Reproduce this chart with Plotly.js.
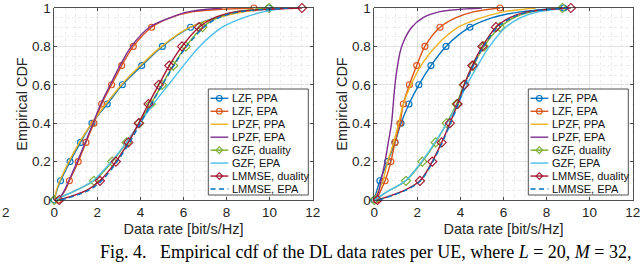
<!DOCTYPE html>
<html>
<head>
<meta charset="utf-8">
<script src="https://cdn.plot.ly/plotly-3.0.1.min.js"></script>
<style>
html,body{margin:0;padding:0;background:#fff;overflow:hidden;}
#chart{width:640px;height:264px;}
</style>
</head>
<body>
<div id="chart"></div>
<script>
// ---- data ----
const cdfLevels = [0, 0.05, 0.1, 0.2, 0.3, 0.4, 0.5, 0.6, 0.7, 0.8, 0.9, 0.95, 0.98, 1];
const markerLevels = [0, 0.1, 0.2, 0.3, 0.4, 0.5, 0.6, 0.7, 0.8, 0.9, 1];
const seriesNames = ['LZF, PPA','LZF, EPA','LPZF, PPA','LPZF, EPA','GZF, duality','GZF, EPA','LMMSE, duality','LMMSE, EPA'];

// left panel: data rate at each CDF level
const lzfPpaL    = [0, 0.12, 0.29, 0.73, 1.22, 1.75, 2.46, 3.16, 4.06, 5.02, 6.33, 7.5, 8.7, 9.95];
const lzfEpaL    = [0.19, 0.5, 0.70, 1.11, 1.47, 1.84, 2.20, 2.66, 3.13, 3.67, 4.52, 5.4, 6.4, 9.27];
const lpzfPpaL   = [0, 0.1, 0.26, 0.68, 1.17, 1.74, 2.4, 3.12, 4.0, 4.98, 6.3, 7.6, 8.8, 10.2];
const lpzfEpaL   = [0.2, 0.47, 0.67, 1.07, 1.44, 1.8, 2.16, 2.6, 3.05, 3.58, 4.42, 5.4, 6.2, 7.8];
const gzfDualL   = [0, 1.0, 1.84, 2.69, 3.36, 3.95, 4.48, 5.0, 5.52, 6.11, 6.88, 7.6, 8.4, 9.98];
const gzfEpaL    = [0, 1.0, 1.8, 2.65, 3.35, 3.97, 4.6, 5.3, 6.0, 6.75, 7.8, 8.8, 9.7, 10.8];
const lmmseDualL = [0.23, 1.5, 2.12, 2.86, 3.44, 3.92, 4.37, 4.85, 5.34, 5.93, 6.72, 7.45, 8.4, 11.5];
const lmmseEpaL  = [0.3, 1.6, 2.2, 2.92, 3.5, 4.0, 4.5, 5.02, 5.55, 6.15, 6.95, 7.65, 8.6, 11.0];

// right panel
const lzfPpaR    = [0, 0.12, 0.26, 0.62, 0.96, 1.24, 1.61, 2.07, 2.63, 3.33, 4.44, 5.5, 6.8, 8.8];
const lzfEpaR    = [0.1, 0.3, 0.5, 0.77, 0.96, 1.19, 1.35, 1.63, 1.97, 2.35, 3.05, 3.8, 4.6, 5.84];
const lpzfPpaR   = [0, 0.2, 0.4, 0.62, 0.9, 1.13, 1.35, 1.7, 2.17, 2.85, 3.9, 5.0, 6.0, 7.5];
const lpzfEpaR   = [0.05, 0.22, 0.31, 0.5, 0.65, 0.8, 0.88, 0.96, 1.08, 1.27, 1.74, 2.27, 3.0, 5.0];
const gzfDualR   = [0, 0.7, 1.47, 2.23, 2.85, 3.36, 3.82, 4.16, 4.6, 5.09, 5.84, 6.5, 7.3, 8.73];
const gzfEpaR    = [0, 0.7, 1.45, 2.2, 2.82, 3.37, 3.87, 4.3, 4.8, 5.35, 6.1, 6.8, 7.6, 9.0];
const lmmseDualR = [0.15, 1.4, 2.12, 2.69, 3.13, 3.51, 3.87, 4.18, 4.55, 5.02, 5.65, 6.3, 7.1, 9.13];
const lmmseEpaR  = [0.2, 1.45, 2.15, 2.72, 3.16, 3.54, 3.9, 4.22, 4.6, 5.07, 5.72, 6.4, 7.2, 9.0];

const xTickVals = [0, 2, 4, 6, 8, 10, 12];
const yTickVals = [0, 0.2, 0.4, 0.6, 0.8, 1];

// ---- styles ----
const styles = [
  {color:'#0072BD', symbol:'circle-open',  size:6, dash:'solid'},
  {color:'#D95319', symbol:'circle-open',  size:6, dash:'solid'},
  {color:'#EDB120', symbol:null,           size:0, dash:'solid'},
  {color:'#7E2F8E', symbol:null,           size:0, dash:'solid'},
  {color:'#77AC30', symbol:'diamond-open', size:7, dash:'solid'},
  {color:'#4DBEEE', symbol:null,           size:0, dash:'solid'},
  {color:'#A2142F', symbol:'diamond-open', size:7, dash:'solid'},
  {color:'#0072BD', symbol:null,           size:0, dash:'5px,3.5px'}
];
const leftSeries  = [lzfPpaL, lzfEpaL, lpzfPpaL, lpzfEpaL, gzfDualL, gzfEpaL, lmmseDualL, lmmseEpaL];
const rightSeries = [lzfPpaR, lzfEpaR, lpzfPpaR, lpzfEpaR, gzfDualR, gzfEpaR, lmmseDualR, lmmseEpaR];

const W = 640, H = 264;
const px = v => v / W;
const py = v => 1 - v / H;
const PLOT = {x0L:54.3, x1L:312.7, x0R:374.3, x1R:632.7, yT:8, yB:200};

function isMarkerLevel(l){ return markerLevels.some(m => Math.abs(m - l) < 1e-9); }

const traces = [];
function addPanel(series, xa, ya){
  series.forEach((xs, i) => {
    const s = styles[i];
    const t = {
      type:'scatter', x: xs, y: cdfLevels, xaxis: xa, yaxis: ya,
      name: seriesNames[i], showlegend:false, hoverinfo:'skip',
      mode: s.symbol ? 'lines+markers' : 'lines',
      line: {color: s.color, width: 1.4, dash: s.dash, shape:'spline', smoothing: 0.9},
      cliponaxis: false
    };
    if (s.symbol) {
      t.marker = {
        symbol: s.symbol, size: s.size,
        color: cdfLevels.map(l => isMarkerLevel(l) ? s.color : 'rgba(0,0,0,0)'),
        line: {width: 1.1}
      };
    }
    traces.push(t);
  });
}
addPanel(leftSeries, 'x', 'y');
addPanel(rightSeries, 'x2', 'y2');

const tickFont = {family:'"Liberation Sans", Arial, Helvetica, sans-serif', size:13.5, color:'#262626'};
const titleFont = {family:'"Liberation Sans", Arial, Helvetica, sans-serif', size:14.5, color:'#262626'};

function xAxis(domain, anchor){
  return {
    domain, anchor, range:[0,12], tickvals:xTickVals, ticktext:xTickVals.map(String),
    showline:true, linecolor:'#262626', linewidth:0.8, mirror:'ticks',
    ticks:'inside', ticklen:3, tickwidth:0.8, tickcolor:'#262626',
    showgrid:true, gridcolor:'#dcdcdc', gridwidth:0.7, zeroline:false,
    minor:{dtick:0.5, tick0:0, showgrid:true, gridcolor:'#e2e2e2', griddash:'dot', gridwidth:0.7, ticks:''},
    tickfont: tickFont, ticklabeloverflow:'allow', fixedrange:true,
    title:{text:'Data rate [bit/s/Hz]', font:titleFont, standoff:4}
  };
}
function yAxis(domain, anchor){
  return {
    domain, anchor, range:[0,1], tickvals:yTickVals, ticktext:yTickVals.map(String),
    showline:true, linecolor:'#262626', linewidth:0.8, mirror:'ticks',
    ticks:'inside', ticklen:3, tickwidth:0.8, tickcolor:'#262626',
    showgrid:true, gridcolor:'#dcdcdc', gridwidth:0.7, zeroline:false,
    minor:{dtick:0.05, tick0:0, showgrid:true, gridcolor:'#e2e2e2', griddash:'dot', gridwidth:0.7, ticks:''},
    tickfont: tickFont, ticklabeloverflow:'allow', fixedrange:true,
    title:{text:'Empirical CDF', font:titleFont, standoff:0}
  };
}

const yDom = [py(PLOT.yB), py(PLOT.yT)];

// ---- hand-made legends (one per panel) ----
const shapes = [], annotations = [];
function addLegend(offset){
  const L = 208.3 + offset, R = 308.3 + offset, T = 89, B = 195;
  shapes.push({type:'rect', xref:'paper', yref:'paper', x0:px(L), x1:px(R), y0:py(B), y1:py(T),
    fillcolor:'#ffffff', line:{color:'#262626', width:0.8}, layer:'above'});
  seriesNames.forEach((nm, i) => {
    const s = styles[i];
    const yc = 98.3 + i * 12.96;
    shapes.push({type:'line', xref:'paper', yref:'paper', x0:px(L+2.2), x1:px(L+20), y0:py(yc), y1:py(yc),
      line:{color:s.color, width:1.4, dash:s.dash}, layer:'above'});
    if (s.symbol === 'circle-open') {
      shapes.push({type:'circle', xref:'paper', yref:'paper', xsizemode:'pixel', ysizemode:'pixel',
        xanchor:px(L+11), yanchor:py(yc), x0:-2.8, x1:2.8, y0:-2.8, y1:2.8,
        fillcolor:'rgba(255,255,255,0)', line:{color:s.color, width:1.1}, layer:'above'});
    } else if (s.symbol === 'diamond-open') {
      shapes.push({type:'path', xref:'paper', yref:'paper', xsizemode:'pixel', ysizemode:'pixel',
        xanchor:px(L+11), yanchor:py(yc), path:'M -3.3 0 L 0 3.3 L 3.3 0 L 0 -3.3 Z',
        fillcolor:'rgba(255,255,255,0)', line:{color:s.color, width:1.1}, layer:'above'});
    }
    annotations.push({xref:'paper', yref:'paper', x:px(L+21.5), y:py(yc), xanchor:'left', yanchor:'middle',
      text:nm, showarrow:false, font:{family:'"Liberation Sans", Arial, Helvetica, sans-serif', size:11, color:'#111'}});
  });
}
addLegend(0);
addLegend(320);

// tick label of a neighbouring figure peeking in at the left edge
annotations.push({xref:'paper', yref:'paper', x:0, y:py(212), xanchor:'left', yanchor:'middle',
  text:'2', showarrow:false, font:tickFont});

// caption
annotations.push({xref:'paper', yref:'paper', x:px(634), y:py(251.5), xanchor:'right', yanchor:'middle',
  text: 'Fig. 4.\u2002 Empirical cdf of the DL data rates per UE, where <i>L</i> = 20, <i>M</i> = 32,',
  showarrow:false, font:{family:'"Liberation Serif", "Times New Roman", serif', size:18, color:'#000'}});

const layout = {
  width:W, height:H, autosize:false,
  margin:{l:0, r:0, t:0, b:0, pad:0},
  paper_bgcolor:'#ffffff', plot_bgcolor:'#ffffff',
  showlegend:false,
  xaxis: xAxis([px(PLOT.x0L), px(PLOT.x1L)], 'y'),
  yaxis: yAxis(yDom, 'x'),
  xaxis2: xAxis([px(PLOT.x0R), px(PLOT.x1R)], 'y2'),
  yaxis2: yAxis(yDom, 'x2'),
  shapes, annotations
};

Plotly.newPlot('chart', traces, layout, {staticPlot:true, displayModeBar:false});
</script>
</body>
</html>
